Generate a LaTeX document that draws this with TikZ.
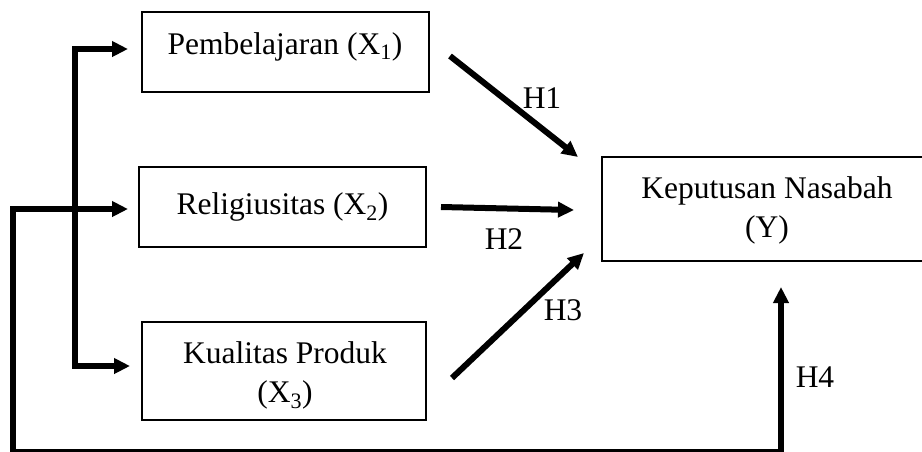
\documentclass[tikz,border=0pt]{standalone}
\usepackage{fontspec}
\setmainfont{Liberation Serif}
\usetikzlibrary{arrows.meta}
\begin{document}
\begin{tikzpicture}[x=1pt,y=-1pt,
  box/.style={draw,line width=2pt,inner sep=0pt},
  txt/.style={inner sep=0pt,anchor=base,font=\fontsize{31.5}{38}\selectfont},
  conn/.style={line width=6pt,line join=miter},
  tip/.style={-{Triangle[length=16pt,width=15pt]}},
  tips/.style={{Triangle[length=16pt,width=15pt]}-{Triangle[length=16pt,width=15pt]}}]
\useasboundingbox (0,0) rectangle (922,451);
% boxes
\node[box,minimum width=287pt,minimum height=80pt] (x1) at (285.5,52) {};
\node[box,minimum width=287pt,minimum height=80pt] (x2) at (282.5,207) {};
\node[box,minimum width=284pt,minimum height=98pt] (x3) at (284,371) {};
\node[box,minimum width=330pt,minimum height=104pt] (y) at (767,209) {};
% texts
\node[txt] (x1t) at (285,54) {Pembelajaran (X\textsubscript{1})};
\node[txt] (x2t) at (282.5,214) {Religiusitas (X\textsubscript{2})};
\node[txt] (x3t) at (285,363) {Kualitas Produk};
\node[txt] (x3u) at (285,402) {(X\textsubscript{3})};
\node[txt] (yt) at (767,198) {Keputusan Nasabah};
\node[txt] (yu) at (767,237) {(Y)};
\node[txt] (h1) at (542,108) {H1};
\node[txt] (h2) at (504,249) {H2};
\node[txt] (h3) at (563,320) {H3};
\node[txt] (h4) at (815,387) {H4};
% coordinates
\coordinate (a1) at (128,49);
\coordinate (a2) at (128,209);
\coordinate (a3) at (130,366);
\coordinate (m1) at (74.5,49);
\coordinate (m3) at (74.5,366);
\coordinate (l1) at (13,209);
\coordinate (l2) at (13,452);
\coordinate (b4) at (781,452);
\coordinate (t4) at (781,287);
\coordinate (s1) at (450,56);
\coordinate (e1) at (578,157);
\coordinate (s2) at (441,207);
\coordinate (e2) at (574,210);
\coordinate (s3) at (452,378);
\coordinate (e3) at (584,253);
% connectors
\draw[conn,tips] (a1) -- (m1) -- (m3) -- (a3);
\draw[conn,tips] (a2) -- (l1) -- (l2) -- (b4) -- (t4);
\draw[conn,tip] (s1) -- (e1);
\draw[conn,tip] (s2) -- (e2);
\draw[conn,tip] (s3) -- (e3);
\end{tikzpicture}
\end{document}
